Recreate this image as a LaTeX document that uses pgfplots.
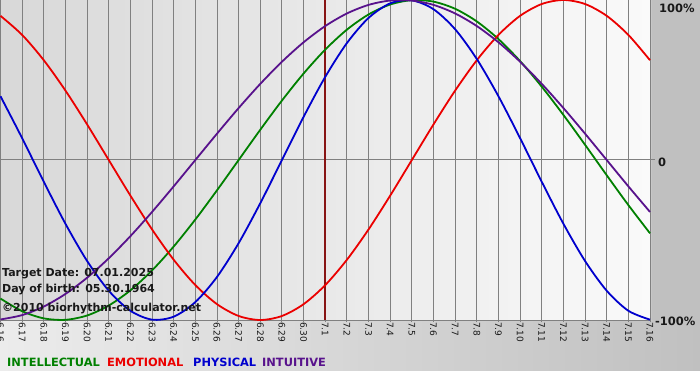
\documentclass[border=0pt]{standalone}
\usepackage{pgfplots}
\pgfplotsset{compat=1.18}
\usepackage{pgfplotstable}
\usepackage{fontspec}
\setmainfont{DejaVu Sans}
\definecolor{cItl}{RGB}{0,128,0}
\definecolor{cEmo}{RGB}{235,0,0}
\definecolor{cPhy}{RGB}{0,0,205}
\definecolor{cItu}{RGB}{88,18,140}
\definecolor{cMark}{RGB}{135,20,20}
\definecolor{gridc}{RGB}{128,128,128}
\definecolor{bgL}{RGB}{216,216,216}
\definecolor{bgR}{RGB}{250,250,250}
\definecolor{bandL}{RGB}{236,236,236}
\definecolor{bandR}{RGB}{192,192,192}
\definecolor{strip}{RGB}{192,192,192}
\definecolor{txt}{RGB}{25,25,25}
\pgfplotstableread{
i phy emo itl itu
0 0.3984 0.9010 -0.8660 -0.9966
1 0.1362 0.7818 -0.9450 -0.9694
2 -0.1362 0.6235 -0.9898 -0.9158
3 -0.3984 0.4339 -0.9989 -0.8372
4 -0.6311 0.2225 -0.9718 -0.7357
5 -0.8170 0 -0.9096 -0.6142
6 -0.9423 -0.2225 -0.8146 -0.4759
7 -0.9977 -0.4339 -0.6901 -0.3247
8 -0.9791 -0.6235 -0.5406 -0.1646
9 -0.8879 -0.7818 -0.3717 0
10 -0.7308 -0.9010 -0.1893 0.1646
11 -0.5196 -0.9749 0 0.3247
12 -0.2698 -1 0.1893 0.4759
13 0 -0.9749 0.3717 0.6142
14 0.2698 -0.9010 0.5406 0.7357
15 0.5196 -0.7818 0.6901 0.8372
16 0.7308 -0.6235 0.8146 0.9158
17 0.8879 -0.4339 0.9096 0.9694
18 0.9791 -0.2225 0.9718 0.9966
19 0.9977 0 0.9989 0.9966
20 0.9423 0.2225 0.9898 0.9694
21 0.8170 0.4339 0.9450 0.9158
22 0.6311 0.6235 0.8660 0.8372
23 0.3984 0.7818 0.7557 0.7357
24 0.1362 0.9010 0.6182 0.6142
25 -0.1362 0.9749 0.4582 0.4759
26 -0.3984 1 0.2817 0.3247
27 -0.6311 0.9749 0.0951 0.1646
28 -0.8170 0.9010 -0.0951 0
29 -0.9423 0.7818 -0.2817 -0.1646
30 -0.9977 0.6235 -0.4582 -0.3247
}\bio
\begin{document}
\begin{tikzpicture}[x=1pt,y=1pt]
\useasboundingbox (0,0) rectangle (700,380);
\fill[white] (0,0) rectangle (700,380);
\shade[left color=bandL, right color=bandR] (0,10) rectangle (700,60);
\fill[strip] (651,60) rectangle (700,380);
\shade[left color=bgL, right color=bgR] (0,60) rectangle (651,380);
\begin{axis}[
  at={(0.5pt,60pt)}, anchor=south west,
  scale only axis, width=649.5pt, height=320pt,
  xmin=0, xmax=30, ymin=-1, ymax=1,
  clip=false,
  axis line style={gridc, line width=1pt},
  xtick={0,...,30},
  xticklabels={6.16,6.17,6.18,6.19,6.20,6.21,6.22,6.23,6.24,6.25,6.26,6.27,6.28,6.29,6.30,7.1,7.2,7.3,7.4,7.5,7.6,7.7,7.8,7.9,7.10,7.11,7.12,7.13,7.14,7.15,7.16},
  ytick=\empty,
  xmajorgrids,
  major grid style={gridc, line width=1pt},
  tick align=outside, major tick length=2pt,
  xtick style={gridc, line width=1pt},
  xticklabel style={rotate=-90, anchor=west, inner sep=0pt, font=\fontsize{9}{10}\selectfont, text=txt},
]
\draw[gridc, line width=1pt] (axis cs:0,0) -- ([xshift=5pt]axis cs:30,0);
\draw[cMark, line width=2pt] (axis cs:15,-1) -- (axis cs:15,1);
\addplot[cItl, line width=1.8pt, smooth, no markers] table[x=i, y=itl] {\bio};
\addplot[cEmo, line width=1.8pt, smooth, no markers] table[x=i, y=emo] {\bio};
\addplot[cPhy, line width=1.8pt, smooth, no markers] table[x=i, y=phy] {\bio};
\addplot[cItu, line width=1.8pt, smooth, no markers] table[x=i, y=itu] {\bio};
\end{axis}
\begin{scope}[every node/.style={inner sep=0pt, anchor=base west, text=txt, font=\bfseries\fontsize{11}{13}\selectfont}]
\node at (2,104) {Target Date: 07.01.2025};
\node at (2,88) {Day of birth: 05.30.1964};
\node at (2,69) {©2010 biorhythm-calculator.net};
\end{scope}
\begin{scope}[every node/.style={inner sep=0pt, anchor=west, text=txt, font=\bfseries\fontsize{11.5}{13}\selectfont}]
\node at (659,372) {100\%};
\node at (658,218) {0};
\node at (655,59) {-100\%};
\end{scope}
\begin{scope}[every node/.style={inner sep=0pt, anchor=base west, font=\bfseries\fontsize{11.4}{13}\selectfont}]
\node[text=cItl] at (7,13.5) {INTELLECTUAL};
\node[text=cEmo] at (107,13.5) {EMOTIONAL};
\node[text=cPhy] at (193,13.5) {PHYSICAL};
\node[text=cItu] at (262,13.5) {INTUITIVE};
\end{scope}
\end{tikzpicture}
\end{document}
